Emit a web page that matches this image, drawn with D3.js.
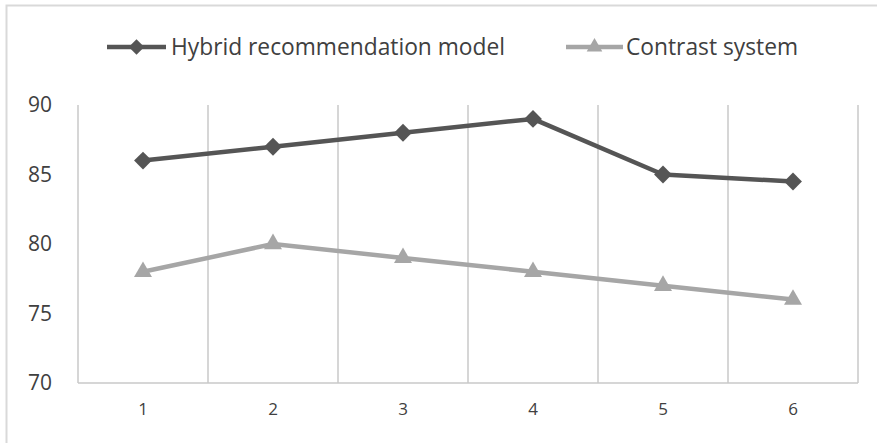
<!DOCTYPE html>
<html>
<head>
<meta charset="utf-8">
<script src="https://cdn.jsdelivr.net/npm/d3@7/dist/d3.min.js"></script>
<style>
  html, body { margin: 0; padding: 0; background: #fff; }
  svg { display: block; }
  text { font-family: "Liberation Sans Narrow", "Open Sans", "DejaVu Sans", sans-serif; }
</style>
</head>
<body>
<svg id="chart" width="877" height="443"></svg>
<script>
// Chart data
const categories = ["1", "2", "3", "4", "5", "6"];
const hybridValues = [86, 87, 88, 89, 85, 84.5];
const contrastValues = [78, 80, 79, 78, 77, 76];
const yTicks = [70, 75, 80, 85, 90];
const seriesNames = ["Hybrid recommendation model", "Contrast system"];

const W = 877, H = 443;
const margin = { left: 78, right: 19, top: 105, bottom: 60 };
const plotW = W - margin.left - margin.right;
const plotH = H - margin.top - margin.bottom;

const svg = d3.select("#chart");

// outer frame
svg.append("rect")
  .attr("x", 6.5).attr("y", 5.5)
  .attr("width", 900).attr("height", 500)
  .attr("fill", "none").attr("stroke", "#d9d9d9").attr("stroke-width", 2);

const g = svg.append("g").attr("transform", `translate(${margin.left},${margin.top})`);

const x = d3.scaleBand().domain(categories).range([0, plotW]).padding(0);
const y = d3.scaleLinear().domain([70, 90]).range([plotH, 0]);

// vertical gridlines at category boundaries
const bounds = categories.map(c => x(c)).concat([plotW]);
g.append("g").selectAll("line").data(bounds).join("line")
  .attr("x1", d => d).attr("x2", d => d)
  .attr("y1", 0).attr("y2", plotH)
  .attr("stroke", "#c9c9c9").attr("stroke-width", 1.5);

// bottom axis line
g.append("line")
  .attr("x1", 0).attr("x2", plotW)
  .attr("y1", plotH).attr("y2", plotH)
  .attr("stroke", "#c9c9c9").attr("stroke-width", 1.5);

// y axis labels
const yAxis = d3.axisLeft(y).tickValues(yTicks).tickSize(0).tickPadding(26);
const yg = g.append("g").call(yAxis);
yg.select(".domain").remove();
yg.selectAll("text")
  .attr("font-size", 21).attr("fill", "#404040")
  .style("font-family", "'Open Sans', sans-serif");

// x axis labels
const xAxis = d3.axisBottom(x).tickSize(0).tickPadding(20);
const xg = g.append("g").attr("transform", `translate(0,${plotH})`).call(xAxis);
xg.select(".domain").remove();
xg.selectAll("text")
  .attr("font-size", 17).attr("fill", "#404040")
  .style("font-family", "'Open Sans', sans-serif");

const cx = c => x(c) + x.bandwidth() / 2;
const line = d3.line().x((d, i) => cx(categories[i])).y(d => y(d));

// diamonds are squares turned 45 degrees
const series = [
  { name: seriesNames[0], values: hybridValues, color: "#555555", symbol: d3.symbolSquare, size: 160, rot: 45 },
  { name: seriesNames[1], values: contrastValues, color: "#a6a6a6", symbol: d3.symbolTriangle, size: 140, rot: 0 }
];

// draw contrast first so hybrid sits on top
series.slice().reverse().forEach(s => {
  g.append("path")
    .datum(s.values)
    .attr("d", line)
    .attr("fill", "none")
    .attr("stroke", s.color)
    .attr("stroke-width", 4.5)
    .attr("stroke-linejoin", "round");
  g.append("g").selectAll("path").data(s.values).join("path")
    .attr("transform", (d, i) => `translate(${cx(categories[i])},${y(d)}) rotate(${s.rot})`)
    .attr("d", d3.symbol().type(s.symbol).size(s.size))
    .attr("fill", s.color);
});

// legend
const legend = svg.append("g");
const legendItems = [
  { s: series[0], x0: 107, x1: 166, tx: 171, tw: 334 },
  { s: series[1], x0: 566, x1: 623, tx: 626, tw: 172 }
];
const ly = 47;
legendItems.forEach(it => {
  legend.append("line")
    .attr("x1", it.x0).attr("x2", it.x1).attr("y1", ly).attr("y2", ly)
    .attr("stroke", it.s.color).attr("stroke-width", 4.5);
  legend.append("path")
    .attr("transform", `translate(${(it.x0 + it.x1) / 2},${ly}) rotate(${it.s.rot})`)
    .attr("d", d3.symbol().type(it.s.symbol).size(it.s.size * 0.75))
    .attr("fill", it.s.color);
  legend.append("text")
    .attr("x", it.tx).attr("y", ly)
    .attr("dy", "0.35em")
    .attr("font-size", 24)
    .attr("fill", "#404040")
    .attr("textLength", it.tw)
    .attr("lengthAdjust", "spacingAndGlyphs")
    .text(it.s.name);
});
</script>
</body>
</html>
